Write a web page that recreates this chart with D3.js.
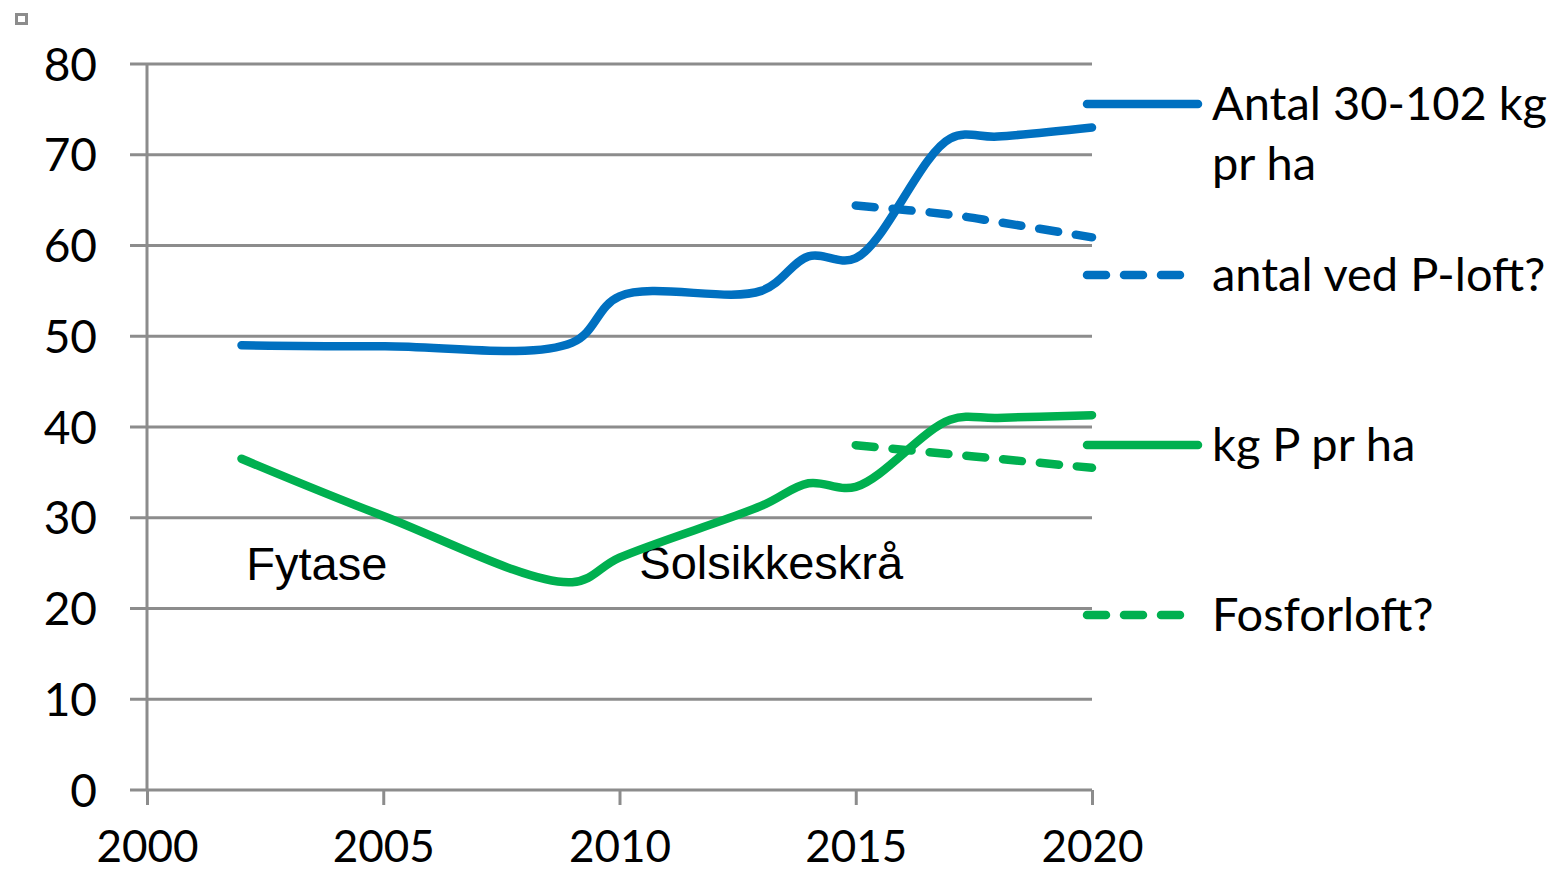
<!DOCTYPE html>
<html>
<head>
<meta charset="utf-8">
<script src="https://cdn.jsdelivr.net/npm/d3@7"></script>
<style>
  body { margin: 0; background: #fff; }
  svg { display: block; }
</style>
</head>
<body>
<div id="chart"></div>
<script>
// values
var years = [2002, 2005, 2009, 2010, 2013, 2014, 2015, 2017, 2018, 2020]
var antalValues = [49.0, 48.9, 49.3, 54.4, 55.0, 58.8, 58.6, 71.8, 72.0, 73.0]
var kgPValues = [36.5, 30.2, 22.9, 25.6, 31.3, 33.8, 33.4, 40.8, 41.0, 41.3]
var loftYears = [2015, 2017, 2018, 2020]
var antalLoftValues = [64.4, 63.4, 62.6, 60.9]
var fosforLoftValues = [38.0, 37.0, 36.5, 35.5]
var yTicks = [0, 10, 20, 30, 40, 50, 60, 70, 80]
var xTicks = [2000, 2005, 2010, 2015, 2020]
var legendLabels = [['Antal 30-102 kg', 'pr ha'], ['antal ved P-loft?'], ['kg P pr ha'], ['Fosforloft?']]
var notes = ['Fytase', 'Solsikkeskrå']

function draw() {
    const blue = '#0070c0', green = '#00b050', grey = '#8c8c8c'
    const W = 1566, H = 872
    const svg = d3.select('#chart').append('svg').attr('width', W).attr('height', H)
        .style('font-family', 'Lato, sans-serif')

    var xScale = d3.scaleLinear().domain([2000, 2020]).range([147, 1092])
    var yScale = d3.scaleLinear().domain([0, 80]).range([790, 64])

    // little square in the corner
    svg.append('rect').attr('x', 16.5).attr('y', 14.5).attr('width', 10).attr('height', 9)
        .attr('fill', '#fff').attr('stroke', grey).attr('stroke-width', 3)

    // gridlines
    svg.append('g').selectAll('line.grid')
        .data(yTicks)
        .enter()
        .append('line')
        .attr('class', 'grid')
        .attr('x1', 130).attr('x2', 1092)
        .attr('y1', d => yScale(d)).attr('y2', d => yScale(d))
        .attr('stroke', grey).attr('stroke-width', 3)

    var yAxis = d3.axisLeft(yScale).tickValues(yTicks).tickSize(17).tickPadding(33)
    var yG = svg.append('g').attr('transform', 'translate(147,0)').call(yAxis)
    yG.select('.domain').remove()
    yG.selectAll('line').attr('stroke', 'none')
    yG.selectAll('text').attr('font-size', 46).attr('dy', '0.35em').attr('fill', '#000')
        .style('font-family', 'Lato, sans-serif')

    var xAxis = d3.axisBottom(xScale).tickValues(xTicks).tickSize(15).tickFormat(d3.format('d'))
    var xG = svg.append('g').attr('transform', 'translate(0,790)').call(xAxis)
    xG.select('.domain').remove()
    xG.selectAll('line').attr('stroke', grey).attr('stroke-width', 3)
    xG.selectAll('text').attr('font-size', 44).attr('y', 72).attr('dy', 0).attr('fill', '#000')
        .style('font-family', 'Lato, sans-serif')

    svg.append('line').attr('x1', 147).attr('x2', 147).attr('y1', yScale(80)).attr('y2', 790)
        .attr('stroke', grey).attr('stroke-width', 3)

    // annotations
    svg.append('text').attr('x', xScale(2002.1)).attr('y', yScale(23.1))
        .attr('font-family', '"Liberation Sans", Arial, sans-serif').attr('font-size', 47).text(notes[0])
    svg.append('text').attr('x', xScale(2010.42)).attr('y', yScale(23.3))
        .attr('font-family', '"Liberation Sans", Arial, sans-serif').attr('font-size', 47).text(notes[1])

    var line = d3.line()
        .x(d => xScale(d[0]))
        .y(d => yScale(d[1]))
        .curve(d3.curveCatmullRom.alpha(0.5))

    var series = [
        { pts: d3.zip(years, antalValues), color: blue, dash: null },
        { pts: d3.zip(loftYears, antalLoftValues), color: blue, dash: '19 18' },
        { pts: d3.zip(years, kgPValues), color: green, dash: null },
        { pts: d3.zip(loftYears, fosforLoftValues), color: green, dash: '19 18' }
    ]

    svg.selectAll('path.series')
        .data(series)
        .enter()
        .append('path')
        .attr('class', 'series')
        .attr('d', d => line(d.pts))
        .attr('fill', 'none')
        .attr('stroke', d => d.color)
        .attr('stroke-width', 8.5)
        .attr('stroke-linecap', 'round')
        .attr('stroke-linejoin', 'round')
        .attr('stroke-dasharray', d => d.dash)

    // legend
    var legendY = [104, 275, 445, 615]
    var lg = svg.selectAll('g.legend')
        .data(series)
        .enter()
        .append('g')
        .attr('class', 'legend')
        .attr('transform', (d, i) => 'translate(0,' + legendY[i] + ')')
    lg.append('line')
        .attr('x1', 1087).attr('x2', d => d.dash ? 1187 : 1198)
        .attr('y1', 0).attr('y2', 0)
        .attr('stroke', d => d.color).attr('stroke-width', 8.5)
        .attr('stroke-linecap', 'round')
        .attr('stroke-dasharray', d => d.dash)
    lg.each(function (d, i) {
        var t = d3.select(this).append('text').attr('x', 1212).attr('y', 16).attr('font-size', 47)
        legendLabels[i].forEach((s, j) => {
            t.append('tspan').attr('x', 1212).attr('dy', j === 0 ? 0 : 60).text(s)
        })
    })
}

draw()
</script>
</body>
</html>
